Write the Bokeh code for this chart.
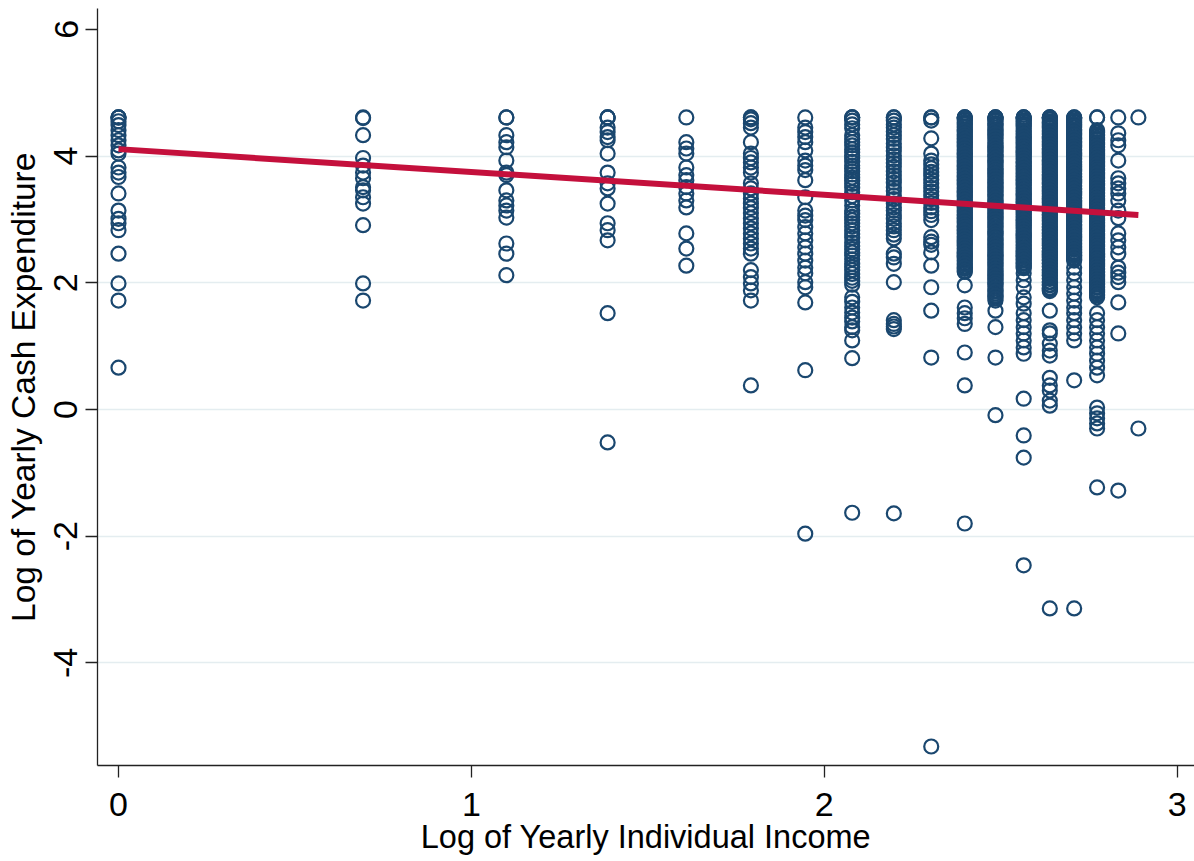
from bokeh.plotting import figure
from bokeh.models import ColumnDataSource, Range1d, FixedTicker
from bokeh.embed import file_html
from bokeh.resources import INLINE

# x categories: log of yearly individual income (discrete levels)
inc_x = [0.0, 0.693, 1.099, 1.386, 1.609, 1.792, 1.946, 2.079, 2.197,
         2.303, 2.398, 2.485, 2.565, 2.639, 2.708, 2.773, 2.833, 2.890]

y_inc1 = [4.61, 4.61, 4.61, 4.55, 4.49, 4.41, 4.33, 4.25, 4.17, 4.09, 4.04,
          3.82, 3.74, 3.67, 3.41, 3.14, 3.01, 2.94, 2.83, 2.46, 1.99, 1.72, 0.66]
y_inc2 = [4.61, 4.60, 4.33, 3.97, 3.85, 3.74, 3.65, 3.51, 3.46, 3.35, 3.25,
          2.91, 1.99, 1.72]
y_inc3 = [4.61, 4.61, 4.33, 4.22, 4.14, 3.93, 3.74, 3.70, 3.46, 3.30, 3.22,
          3.14, 3.03, 2.62, 2.46, 2.12]
y_inc4 = [4.61, 4.61, 4.61, 4.45, 4.38, 4.30, 4.25, 4.04, 3.74, 3.57, 3.49,
          3.25, 2.94, 2.83, 2.67, 1.52, -0.52]
y_inc5 = [4.61, 4.22, 4.12, 4.04, 3.82, 3.70, 3.62, 3.51, 3.41, 3.30, 3.19,
          2.78, 2.54, 2.27]
y_inc6 = [4.61, 4.61, 4.58, 4.52, 4.45, 4.22, 4.04, 3.97, 3.90, 3.82, 3.74,
          3.57, 3.49, 3.41, 3.33, 3.25, 3.18, 3.10, 3.02, 2.94, 2.86, 2.78,
          2.70, 2.62, 2.54, 2.46, 2.20, 2.09, 1.99, 1.88, 1.72, 0.38]
y_inc7 = [4.61, 4.45, 4.38, 4.30, 4.22, 4.09, 3.93, 3.85, 3.78, 3.62, 3.35,
          3.14, 3.06, 2.99, 2.88, 2.78, 2.67, 2.56, 2.46, 2.35, 2.24, 2.15,
          2.01, 1.93, 1.69, 0.62, -1.96]
y_inc8 = [4.61, 4.61, 4.61, 4.56, 4.50, 4.44, 4.33, 4.27, 4.22, 4.17, 4.11,
          4.06, 4.01, 3.97, 3.91, 3.85, 3.81, 3.76, 3.71, 3.66, 3.61, 3.56,
          3.50, 3.43, 3.37, 3.30, 3.22, 3.14, 3.09, 3.04, 2.99, 2.94, 2.89,
          2.83, 2.77, 2.71, 2.64, 2.58, 2.53, 2.48, 2.43, 2.37, 2.30, 2.25,
          2.20, 2.14, 2.08, 2.03, 1.97, 1.77, 1.70, 1.61, 1.53, 1.45, 1.39,
          1.30, 1.25, 1.09, 0.81, -1.63]
y_inc9 = [4.61, 4.61, 4.56, 4.50, 4.45, 4.39, 4.33, 4.27, 4.20, 4.14, 4.08,
          4.01, 3.95, 3.89, 3.83, 3.76, 3.70, 3.64, 3.58, 3.51, 3.45, 3.38,
          3.32, 3.25, 3.19, 3.14, 3.07, 3.01, 2.94, 2.89, 2.83, 2.76, 2.70,
          2.46, 2.40, 2.30, 2.01, 1.41, 1.35, 1.31, 1.27, -1.64]
y_inc10 = [4.61, 4.61, 4.56, 4.28, 4.04, 3.93, 3.87, 3.81, 3.75, 3.69, 3.63,
           3.57, 3.50, 3.44, 3.38, 3.32, 3.26, 3.19, 3.13, 3.07, 2.99, 2.72,
           2.65, 2.60, 2.48, 2.27, 1.93, 1.56, 0.82, -5.32]
y_inc11 = [4.61, 4.61, 4.61, 4.57, 4.52, 4.47, 4.42, 4.38, 4.33, 4.28, 4.23,
           4.18, 4.14, 4.09, 4.04, 3.99, 3.94, 3.90, 3.85, 3.80, 3.75, 3.70,
           3.66, 3.61, 3.56, 3.51, 3.46, 3.42, 3.37, 3.32, 3.27, 3.22, 3.18,
           3.13, 3.08, 3.03, 2.98, 2.94, 2.89, 2.84, 2.79, 2.74, 2.70, 2.65,
           2.60, 2.55, 2.50, 2.46, 2.41, 2.36, 2.31, 2.26, 2.22, 2.17, 1.96,
           1.61, 1.52, 1.44, 1.35, 0.90, 0.38, -1.80]
y_inc11_more = [4.59, 4.54, 4.50, 4.45, 4.40, 4.35, 4.31, 4.26, 4.21, 4.16,
                4.11, 4.06, 4.02, 3.97, 3.92, 3.87, 3.83, 3.78, 3.73, 3.68,
                3.63, 3.58, 3.54, 3.49, 3.44, 3.39, 3.35, 3.30, 3.25, 3.20,
                3.15, 3.11, 3.06, 3.01, 2.96, 2.91, 2.87, 2.82, 2.77, 2.72,
                2.67, 2.63, 2.58, 2.53, 2.48, 2.43, 2.39, 2.34, 2.29, 2.24,
                2.19]
y_inc12 = [4.61, 4.61, 4.61, 4.57, 4.52, 4.48, 4.42, 4.37, 4.33, 4.28, 4.22,
           4.17, 4.13, 4.08, 4.03, 3.99, 3.93, 3.89, 3.84, 3.79, 3.74, 3.69,
           3.64, 3.59, 3.55, 3.50, 3.45, 3.40, 3.36, 3.30, 3.26, 3.21, 3.16,
           3.11, 3.06, 3.01, 2.96, 2.92, 2.87, 2.81, 2.77, 2.72, 2.67, 2.62,
           2.57, 2.52, 2.48, 2.43, 2.38, 2.33, 2.28, 2.23, 2.18, 2.13, 2.08,
           2.04, 1.99, 1.94, 1.88, 1.83, 1.78, 1.72, 1.56, 1.30, 0.82, -0.09]
y_inc12_more = [4.59, 4.55, 4.50, 4.45, 4.40, 4.35, 4.30, 4.25, 4.20, 4.15,
                4.10, 4.06, 4.01, 3.96, 3.91, 3.86, 3.81, 3.77, 3.72, 3.67,
                3.62, 3.57, 3.52, 3.47, 3.43, 3.38, 3.33, 3.28, 3.23, 3.18,
                3.14, 3.09, 3.04, 2.99, 2.94, 2.89, 2.84, 2.79, 2.75, 2.70,
                2.65, 2.60, 2.55, 2.50, 2.45, 2.41, 2.36, 2.31, 2.26, 2.21,
                2.16, 2.11, 2.06, 2.01, 1.97, 1.91, 1.86, 1.80, 1.75]
y_inc13 = [4.61, 4.61, 4.61, 4.56, 4.51, 4.47, 4.41, 4.36, 4.31, 4.27, 4.21,
           4.16, 4.12, 4.07, 4.02, 3.97, 3.92, 3.88, 3.83, 3.78, 3.73, 3.68,
           3.63, 3.58, 3.54, 3.49, 3.44, 3.39, 3.34, 3.29, 3.25, 3.20, 3.15,
           3.10, 3.05, 3.00, 2.95, 2.91, 2.86, 2.81, 2.76, 2.71, 2.66, 2.61,
           2.56, 2.51, 2.47, 2.42, 2.37, 2.32, 2.27, 2.23, 2.15, 2.04, 1.93,
           1.77, 1.67, 1.52, 1.41, 1.30, 1.20, 1.09, 0.98, 0.88, 0.17, -0.41,
           -0.76, -2.46]
y_inc13_more = [4.59, 4.54, 4.49, 4.44, 4.39, 4.34, 4.29, 4.24, 4.19, 4.14,
                4.09, 4.05, 4.00, 3.95, 3.90, 3.85, 3.80, 3.75, 3.71, 3.66,
                3.61, 3.56, 3.51, 3.46, 3.41, 3.37, 3.32, 3.27, 3.22, 3.17,
                3.12, 3.08, 3.03, 2.98, 2.93, 2.88, 2.83, 2.78, 2.74, 2.69,
                2.64, 2.59, 2.54, 2.49, 2.44, 2.40, 2.35, 2.30, 2.25]
y_inc14 = [4.61, 4.61, 4.61, 4.58, 4.53, 4.48, 4.44, 4.39, 4.34, 4.29, 4.24,
           4.19, 4.15, 4.10, 4.05, 4.00, 3.95, 3.91, 3.86, 3.81, 3.76, 3.71,
           3.66, 3.62, 3.57, 3.52, 3.47, 3.42, 3.37, 3.33, 3.28, 3.23, 3.18,
           3.13, 3.08, 3.04, 2.99, 2.94, 2.89, 2.84, 2.79, 2.75, 2.70, 2.65,
           2.60, 2.55, 2.50, 2.46, 2.41, 2.36, 2.31, 2.26, 2.21, 2.17, 2.12,
           2.07, 2.02, 1.97, 1.92, 1.87, 1.56, 1.25, 1.20, 1.04, 0.93, 0.85,
           0.50, 0.38, 0.30, 0.14, 0.06, -3.14]
y_inc14_more = [4.60, 4.55, 4.51, 4.46, 4.41, 4.36, 4.31, 4.27, 4.22, 4.17,
                4.12, 4.07, 4.03, 3.98, 3.93, 3.88, 3.83, 3.79, 3.74, 3.69,
                3.64, 3.59, 3.55, 3.50, 3.45, 3.40, 3.35, 3.31, 3.26, 3.21,
                3.16, 3.11, 3.07, 3.02, 2.97, 2.92, 2.87, 2.83, 2.78, 2.73,
                2.68, 2.63, 2.59, 2.54, 2.49, 2.44, 2.39, 2.35, 2.30, 2.25,
                2.20, 2.15, 2.11, 2.06, 2.01, 1.96, 1.91, 1.89]
y_inc15 = [4.61, 4.61, 4.59, 4.54, 4.49, 4.45, 4.40, 4.35, 4.30, 4.26, 4.21,
           4.16, 4.11, 4.06, 4.02, 3.97, 3.92, 3.87, 3.83, 3.78, 3.73, 3.68,
           3.63, 3.59, 3.54, 3.49, 3.44, 3.40, 3.35, 3.30, 3.25, 3.20, 3.16,
           3.11, 3.06, 3.01, 2.97, 2.92, 2.87, 2.82, 2.77, 2.73, 2.68, 2.63,
           2.58, 2.54, 2.49, 2.44, 2.39, 2.35, 2.24, 2.15, 2.04, 1.93, 1.83,
           1.72, 1.61, 1.52, 1.41, 1.30, 1.20, 1.09, 0.46, -3.14]
y_inc15_more = [4.60, 4.56, 4.51, 4.47, 4.42, 4.37, 4.33, 4.28, 4.23, 4.18,
                4.14, 4.09, 4.04, 4.00, 3.95, 3.90, 3.85, 3.80, 3.76, 3.71,
                3.66, 3.61, 3.57, 3.52, 3.47, 3.42, 3.38, 3.33, 3.28, 3.23,
                3.18, 3.14, 3.09, 3.04, 2.99, 2.95, 2.90, 2.85, 2.80, 2.75,
                2.71, 2.66, 2.61, 2.56, 2.52, 2.47, 2.42, 2.37]
y_inc16 = [4.61, 4.61, 4.41, 4.37, 4.32, 4.27, 4.22, 4.18, 4.13, 4.08, 4.03,
           3.98, 3.94, 3.89, 3.84, 3.79, 3.74, 3.70, 3.65, 3.60, 3.55, 3.50,
           3.46, 3.41, 3.36, 3.31, 3.26, 3.22, 3.17, 3.12, 3.07, 3.02, 2.98,
           2.93, 2.88, 2.83, 2.78, 2.74, 2.69, 2.64, 2.59, 2.54, 2.50, 2.45,
           2.40, 2.35, 2.30, 2.26, 2.21, 2.16, 2.11, 2.06, 2.02, 1.97, 1.92,
           1.87, 1.82, 1.77, 1.52, 1.41, 1.30, 1.20, 1.09, 0.98, 0.88, 0.77,
           0.66, 0.54, 0.03, -0.06, -0.14, -0.22, -0.30, -1.23]
y_inc16_more = [4.39, 4.34, 4.29, 4.25, 4.20, 4.15, 4.10, 4.05, 4.01, 3.96,
                3.91, 3.86, 3.81, 3.77, 3.72, 3.67, 3.62, 3.57, 3.53, 3.48,
                3.43, 3.38, 3.33, 3.29, 3.24, 3.19, 3.14, 3.09, 3.05, 3.00,
                2.95, 2.90, 2.85, 2.81, 2.76, 2.71, 2.66, 2.61, 2.57, 2.52,
                2.47, 2.42, 2.37, 2.33, 2.28, 2.23, 2.18, 2.13, 2.09, 2.04,
                1.99, 1.94, 1.89, 1.85, 1.80]
y_inc17 = [4.61, 4.36, 4.25, 4.17, 3.93, 3.65, 3.57, 3.49, 3.41, 3.30, 3.14,
           3.02, 2.78, 2.67, 2.56, 2.46, 2.24, 2.16, 2.09, 2.01, 1.69, 1.20,
           -1.28]
y_inc18 = [4.61, -0.30]

# linear fit line endpoints
fit_x = [0.0, 2.890]
fit_y = [4.11, 3.07]

x_ticks = [0, 1, 2, 3]
y_ticks = [-4, -2, 0, 2, 4, 6]
grid_ticks = [-4, -2, 0, 2, 4]

columns = [y_inc1, y_inc2, y_inc3, y_inc4, y_inc5, y_inc6, y_inc7, y_inc8,
           y_inc9, y_inc10, y_inc11 + y_inc11_more, y_inc12 + y_inc12_more,
           y_inc13 + y_inc13_more, y_inc14 + y_inc14_more,
           y_inc15 + y_inc15_more, y_inc16 + y_inc16_more, y_inc17, y_inc18]
xs, ys = [], []
for xv, col in zip(inc_x, columns):
    xs.extend([xv] * len(col))
    ys.extend(col)
src = ColumnDataSource(dict(x=xs, y=ys))

FONT = "Liberation Sans"
NAVY = "#1a476f"
RED = "#c4103c"

p = figure(width=1194, height=861, output_backend="svg", toolbar_location=None,
           x_range=Range1d(-0.0595, 3.049), y_range=Range1d(-5.62, 6.33),
           min_border_left=97, min_border_right=0, min_border_top=8,
           min_border_bottom=96)
p.outline_line_color = None
p.background_fill_color = "white"
p.border_fill_color = "white"

p.scatter("x", "y", source=src, marker="circle", size=14, fill_color=None,
          line_color=NAVY, line_width=2.2)
p.line(fit_x, fit_y, line_color=RED, line_width=6)

p.xgrid.visible = False
p.ygrid.ticker = FixedTicker(ticks=grid_ticks)
p.ygrid.grid_line_color = "#e4edf0"
p.ygrid.grid_line_width = 1.5

for ax in (p.xaxis[0], p.yaxis[0]):
    ax.axis_line_color = "#222222"
    ax.axis_line_width = 1.3
    ax.major_tick_line_color = "#222222"
    ax.major_tick_line_width = 1.3
    ax.major_tick_out = 12
    ax.major_tick_in = 0
    ax.minor_tick_line_color = None
    ax.major_label_text_font = FONT
    ax.major_label_text_font_size = "34px"
    ax.major_label_text_color = "#000000"
    ax.axis_label_text_font = FONT
    ax.axis_label_text_font_style = "normal"
    ax.axis_label_text_color = "#000000"

p.xaxis.axis_label_text_font_size = "32.5px"
p.yaxis.axis_label_text_font_size = "33.5px"
p.xaxis.ticker = FixedTicker(ticks=x_ticks)
p.yaxis.ticker = FixedTicker(ticks=y_ticks)
p.yaxis.major_label_overrides = {-4: "-4", -2: "-2", 0: "0", 2: "2", 4: "4", 6: "6"}
p.xaxis.axis_label = "Log of Yearly Individual Income"
p.yaxis.axis_label = "Log of Yearly Cash Expenditure"
p.yaxis.major_label_orientation = "vertical"
p.xaxis.major_label_standoff = 15
p.yaxis.major_label_standoff = 8
p.xaxis.axis_label_standoff = 0
p.yaxis.axis_label_standoff = 10

open("out.html", "w").write(file_html(p, INLINE))
